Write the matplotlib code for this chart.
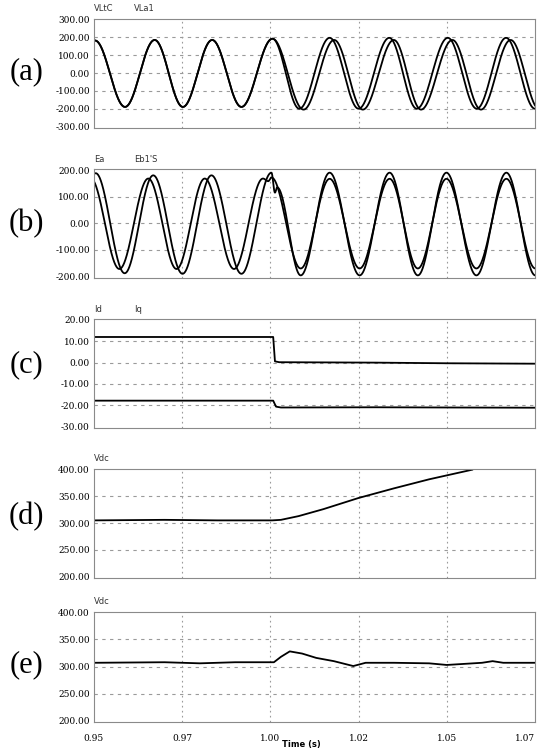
import numpy as np
import matplotlib.pyplot as plt

# x axis (time, s)
x_ticks = [0.95, 0.975, 1.00, 1.025, 1.05, 1.075]
x_labels = ['0.95', '0.97', '1.00', '1.02', '1.05', '1.07']

# (a) load voltages: extrema (time, value)
vltc_t = [0.9420, 0.9503, 0.9588, 0.9672, 0.9752, 0.9835, 0.9918, 1.0006, 1.0082, 1.0168,
          1.0250, 1.0337, 1.0415, 1.0503, 1.0585, 1.0668, 1.0750, 1.0835]
vltc_v = [-190, 182, -190, 185, -190, 185, -190, 192, -200, 197,
          -200, 197, -200, 197, -200, 197, -200, 197]
vla1_t = [0.9420, 0.9503, 0.9588, 0.9672, 0.9752, 0.9835, 0.9918, 1.0006, 1.0094, 1.0181,
          1.0262, 1.0350, 1.0427, 1.0516, 1.0597, 1.0681, 1.0763, 1.0850]
vla1_v = [-190, 182, -190, 185, -190, 185, -190, 192, -205, 185,
          -205, 185, -205, 185, -205, 185, -205, 185]

# (b) source voltages
ea_t = [0.9420, 0.9505, 0.9587, 0.9668, 0.9751, 0.9833, 0.9918, 1.0003, 1.0013, 1.0019,
        1.0086, 1.0168, 1.0253, 1.0338, 1.0418, 1.0499, 1.0584, 1.0669, 1.0751, 1.0835]
ea_v = [-185, 188, -188, 180, -190, 180, -190, 190, 115, 135,
        -196, 190, -196, 190, -196, 190, -196, 190, -196, 190]
eb_t = [0.9408, 0.9490, 0.9572, 0.9654, 0.9734, 0.9814, 0.9897, 0.9979, 0.9994, 1.0003,
        1.0086, 1.0168, 1.0253, 1.0338, 1.0418, 1.0499, 1.0584, 1.0669, 1.0751, 1.0835]
eb_v = [-170, 170, -172, 168, -172, 168, -172, 168, 158, 172,
        -170, 167, -170, 167, -170, 167, -170, 167, -170, 167]

# (c) currents
c_t = [0.95, 1.0008, 1.0013, 1.0025, 1.03, 1.05, 1.075]
id_v = [12.0, 12.0, 0.6, 0.2, 0.0, -0.3, -0.5]
iq_t = [0.95, 1.0008, 1.0016, 1.0030, 1.03, 1.05, 1.075]
iq_v = [-17.8, -17.8, -20.6, -21.0, -20.9, -21.0, -21.1]

# (d) dc voltage
vd_t = [0.95, 0.97, 0.985, 1.0005, 1.003, 1.008, 1.015, 1.025, 1.035, 1.045, 1.0572]
vd_v = [305, 306, 305, 305, 306, 313, 326, 347, 365, 382, 400]

# (e) dc voltage
ve_t = [0.95, 0.97, 0.98, 0.99, 1.001, 1.003, 1.0055, 1.009, 1.013, 1.018, 1.0235,
        1.027, 1.035, 1.045, 1.050, 1.060, 1.063, 1.066, 1.075]
ve_v = [307, 308, 306, 308, 308, 318, 328, 324, 316, 310, 301,
        307, 307, 306, 303, 307, 310, 307, 307]


def wave(tk, vk, t):
    # half-cosine between successive read extrema
    out = np.zeros_like(t)
    for i in range(len(tk) - 1):
        m = (t >= tk[i]) & (t <= tk[i + 1])
        s = (t[m] - tk[i]) / (tk[i + 1] - tk[i])
        out[m] = vk[i] + (vk[i + 1] - vk[i]) * (1 - np.cos(np.pi * s)) / 2
    return out


t = np.linspace(0.95, 1.075, 3000)

fig = plt.figure(figsize=(5.37, 7.48), dpi=100)

panels = [
    ('(a)', 0.8289, 0.1451, (-308, 300), [300, 200, 100, 0, -100, -200, -300],
     ['300.00', '200.00', '100.00', '0.00', '-100.00', '-200.00', '-300.00'],
     ['VLtC', 'VLa1'], 72),
    ('(b)', 0.6283, 0.1451, (-206, 202), [200, 100, 0, -100, -200],
     ['200.00', '100.00', '0.00', '-100.00', '-200.00'],
     ['Ea', "Eb1'S"], 224),
    ('(c)', 0.4278, 0.1451, (-30.6, 20.2), [20, 10, 0, -10, -20, -30],
     ['20.00', '10.00', '0.00', '-10.00', '-20.00', '-30.00'],
     ['Id', 'Iq'], 365),
    ('(d)', 0.2273, 0.1451, (197, 400.5), [400, 350, 300, 250, 200],
     ['400.00', '350.00', '300.00', '250.00', '200.00'],
     ['Vdc'], 517),
    ('(e)', 0.0348, 0.1470, (198, 400.5), [400, 350, 300, 250, 200],
     ['400.00', '350.00', '300.00', '250.00', '200.00'],
     ['Vdc'], 665),
]

axes = []
for i, (tag, bot, h, ylim, yt, ylab, names, ytag) in enumerate(panels):
    ax = fig.add_axes([0.175, bot, 0.8212, h])
    axes.append(ax)
    ax.set_xlim(0.95, 1.075)
    ax.set_ylim(*ylim)
    ax.set_yticks(yt)
    ax.set_yticklabels(ylab, family='DejaVu Serif', fontsize=6.5)
    ax.set_xticks(x_ticks)
    if i == 4:
        lbls = ax.set_xticklabels(x_labels, family='DejaVu Serif', fontsize=6.5)
        lbls[-1].set_horizontalalignment('right')
    else:
        ax.set_xticklabels([])
    ax.tick_params(length=0, pad=3)
    ax.tick_params(axis='x', pad=9)
    for y in yt[1:-1]:
        ax.axhline(y, color='#9a9a9a', lw=0.8, ls=(0, (3, 4)), zorder=0)
    for x in x_ticks[1:-1]:
        ax.axvline(x, color='#9a9a9a', lw=0.8, ls=(0, (1.5, 3)), zorder=0)
    for s in ax.spines.values():
        s.set_color('#8a8a8a')
        s.set_linewidth(0.8)
        s.set_linestyle((0, (1, 1)))
    # trace names above the box
    ax.text(0.0, 1.055, names[0], transform=ax.transAxes, fontsize=6,
            ha='left', va='bottom', color='#333333')
    if len(names) > 1:
        ax.text(0.09, 1.055, names[1], transform=ax.transAxes, fontsize=6,
                ha='left', va='bottom', color='#333333')
    fig.text(26.5 / 537, 1 - ytag / 748, tag, family='Liberation Serif',
             fontsize=22, ha='center', va='center')

lw = 1.3
axes[0].plot(t, wave(vltc_t, vltc_v, t), color='k', lw=lw)
axes[0].plot(t, wave(vla1_t, vla1_v, t), color='k', lw=lw)
axes[1].plot(t, wave(ea_t, ea_v, t), color='k', lw=lw)
axes[1].plot(t, wave(eb_t, eb_v, t), color='k', lw=lw)
axes[2].plot(c_t, id_v, color='k', lw=lw)
axes[2].plot(iq_t, iq_v, color='k', lw=lw)
axes[3].plot(vd_t, vd_v, color='k', lw=lw)
axes[4].plot(ve_t, ve_v, color='k', lw=lw)

fig.text(301 / 537, 1 - 744 / 748, 'Time (s)', fontsize=6, fontweight='bold',
         ha='center', va='center')

fig.savefig('out.png', dpi=100)
